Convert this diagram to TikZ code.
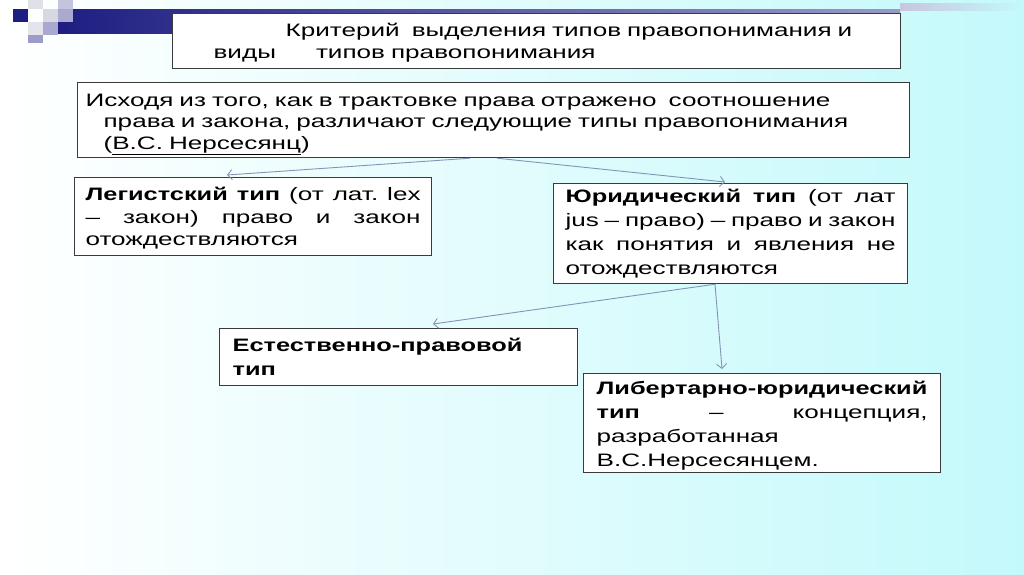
\documentclass[tikz,border=0pt]{standalone}
\usepackage{fontspec}
\setmainfont[FakeStretch=1.45]{Liberation Sans}
\newfontfamily\bfont[FakeStretch=1.41]{Liberation Sans Bold}
\usetikzlibrary{arrows.meta,calc}
\definecolor{arrowc}{HTML}{8494B4}
\definecolor{boxc}{HTML}{3A3A3A}
\definecolor{navy}{HTML}{1E1E82}
\definecolor{bgright}{HTML}{C4F9FB}
\tikzset{
  box/.style={draw=boxc, line width=1.2pt, fill=white, anchor=north west, inner ysep=0pt, align=left},
  conn/.style={draw=arrowc, line width=0.9pt, -{Straight Barb[length=4.5pt,width=10pt]}},
  sq/.style={draw=none}
}
\newcommand{\jl}[2]{\leavevmode\hbox to #1{\frenchspacing\spaceskip=0.28em plus 1fil\xspaceskip=\spaceskip #2}}
\newcommand{\B}[1]{{\bfont #1}}
\begin{document}
\begin{tikzpicture}[x=1pt,y=-1pt]
\useasboundingbox (0,0) rectangle (1024,574);
\shade[left color=white, right color=bgright] (0,0) rectangle (1024,574);
% top band
\shade[left color=navy, right color=navy!45] (58,9) rectangle (900,33);
\shade[left color=navy!25, right color=bgright] (900,3) rectangle (1024,10);
% decorative squares
\fill[sq, fill={rgb,255:red,224;green,224;blue,232}] (28,0) rectangle (43,9);
\fill[sq, fill=navy] (13,9) rectangle (28,22);
\fill[sq, fill={rgb,255:red,216;green,216;blue,226}] (43,9) rectangle (58,22);
\fill[sq, fill={rgb,255:red,196;green,196;blue,222}] (58,0) rectangle (73,9);
\fill[sq, fill={rgb,255:red,170;green,170;blue,206}] (58,9) rectangle (73,22);
\fill[sq, fill={rgb,255:red,228;green,228;blue,236}] (28,22) rectangle (43,35);
\fill[sq, fill={rgb,255:red,168;green,168;blue,208}] (43,22) rectangle (58,35);
\fill[sq, fill={rgb,255:red,156;green,156;blue,200}] (28,35) rectangle (43,43);

% title
\node[box, inner xsep=10pt, text width=708pt, minimum height=55pt,
      font=\fontsize{18}{22}\selectfont] (title) at (172,13)
  {\rule{0pt}{17pt}\hspace*{103pt}Критерий\hspace{12pt}выделения типов правопонимания и\\
   \hspace*{31pt}виды\hspace{40pt}типов правопонимания};

% source
\node[box, inner xsep=8pt, text width=816pt, minimum height=75pt,
      font=\fontsize{18}{21.5}\selectfont] (src) at (77,82)
  {\rule{0pt}{21pt}Исходя из того, как в трактовке права отражено\ \ соотношение\\
   \hspace*{18pt}права и закона, различают следующие типы правопонимания\\
   \hspace*{18pt}(\underline{В.С. Нерсесянц})};

% legist
\node[box, inner xsep=11pt, text width=335pt, minimum height=78pt,
      font=\fontsize{18}{22.5}\selectfont] (leg) at (74,177)
  {\jl{335pt}{\rule{0pt}{17pt}\B{Легистский тип} (от лат. lex}\\
   \jl{335pt}{– закон) право и закон}\\
   отождествляются};

% juridical
\node[box, inner xsep=12pt, text width=330pt, minimum height=100pt,
      font=\fontsize{18}{24.3}\selectfont] (jur) at (553,183)
  {\jl{330pt}{\B{Юридический тип} (от лат}\\
   \jl{330pt}{jus – право) – право и закон}\\
   \jl{330pt}{как понятия и явления не}\\
   отождествляются};

% natural
\node[box, inner xsep=13pt, text width=332pt, minimum height=57pt,
      font=\fontsize{18}{24}\selectfont] (nat) at (219,328)
  {\B{Естественно-правовой}\\
   \B{тип}};

% libertarian
\node[box, inner xsep=13pt, text width=331pt, minimum height=99pt,
      font=\fontsize{18}{24}\selectfont] (lib) at (583,373)
  {\rule{0pt}{19pt}\mbox{\B{Либертарно-юридический}}\\
   \jl{331pt}{\B{тип} – концепция,}\\
   разработанная\\
   В.С.Нерсесянцем.};

% connectors
\coordinate (legin) at (227,175);
\coordinate (jurin) at (725,182);
\coordinate (natin) at (433,324);
\coordinate (libin) at (722,369);
\draw[conn] ([xshift=393pt]src.south west) -- (legin);
\draw[conn] ([xshift=420pt]src.south west) -- (jurin);
\draw[conn] ([xshift=162pt]jur.south west) -- (natin);
\draw[conn] ([xshift=162pt]jur.south west) -- (libin);
\end{tikzpicture}
\end{document}
